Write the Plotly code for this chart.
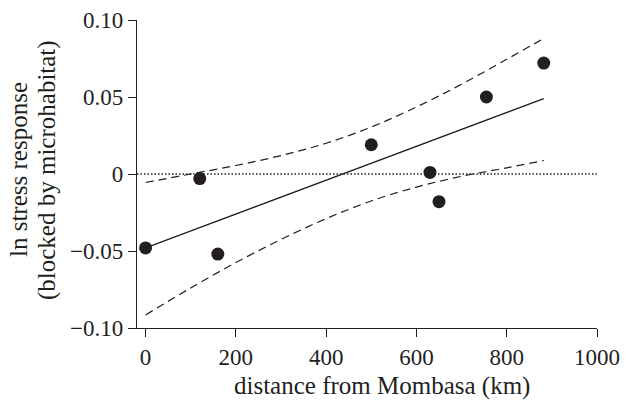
import plotly.graph_objects as go

# data
distance_km = [0, 120, 160, 500, 630, 650, 755, 882]
stress = [-0.048, -0.003, -0.052, 0.019, 0.001, -0.018, 0.050, 0.072]

fit_x = [0, 882]
fit_y = [-0.048, 0.049]

band_x = [0, 100, 200, 300, 400, 500, 600, 700, 800, 882]
band_upper = [-0.0055, 0.0000, 0.0055, 0.0120, 0.0200, 0.0305, 0.0435, 0.0583, 0.0745, 0.0880]
band_lower = [-0.0915, -0.0740, -0.0575, -0.0425, -0.0290, -0.0175, -0.0085, -0.0015, 0.0040, 0.0088]

x_ticks = [0, 200, 400, 600, 800, 1000]
y_ticks = [-0.10, -0.05, 0, 0.05, 0.10]
y_tick_labels = ["\u22120.10", "\u22120.05", "0", "0.05", "0.10"]

x_title = "distance from Mombasa (km)"
y_title_lines = ["ln stress response", "(blocked by microhabitat)"]

ink = "#231f20"
font = "Liberation Serif"
tick_fs = 23
title_fs = 25

fig = go.Figure()
fig.add_hline(y=0, line=dict(color=ink, width=1.5, dash="1.5px,2px"))
fig.add_trace(go.Scatter(x=band_x, y=band_upper, mode="lines",
                         line=dict(color=ink, width=1.2, dash="8px,5px", shape="spline")))
fig.add_trace(go.Scatter(x=band_x, y=band_lower, mode="lines",
                         line=dict(color=ink, width=1.2, dash="8px,5px", shape="spline")))
fig.add_trace(go.Scatter(x=fit_x, y=fit_y, mode="lines",
                         line=dict(color=ink, width=1.4)))
fig.add_trace(go.Scatter(x=distance_km, y=stress, mode="markers",
                         marker=dict(color=ink, size=13), cliponaxis=False))

fig.update_layout(
    width=630, height=401,
    margin=dict(l=137, r=33, t=20, b=73),
    plot_bgcolor="white", paper_bgcolor="white",
    showlegend=False,
    font=dict(family=font, size=tick_fs, color=ink),
)
fig.update_xaxes(
    range=[-19, 1000], tickvals=x_ticks, ticktext=[str(v) for v in x_ticks],
    showline=True, linecolor=ink, linewidth=1.3, showgrid=False, zeroline=False,
    ticks="outside", ticklen=8, tickwidth=1.3, tickcolor=ink, automargin=False,
    tickfont=dict(size=tick_fs),
)
fig.update_yaxes(
    range=[-0.10, 0.10], tickvals=y_ticks, ticktext=y_tick_labels,
    showline=True, linecolor=ink, linewidth=1.3, showgrid=False, zeroline=False,
    ticks="outside", ticklen=8, tickwidth=1.3, tickcolor=ink, automargin=False,
    tickfont=dict(size=tick_fs),
)

# axis titles
fig.add_annotation(text=x_title, xref="paper", yref="paper", x=0.533, y=0,
                   xanchor="center", yanchor="middle", yshift=-58, showarrow=False,
                   font=dict(family=font, size=title_fs, color=ink))
for line, shift in zip(y_title_lines, [-118, -90]):
    fig.add_annotation(text=line, xref="paper", yref="paper", x=0, y=0.513,
                       xanchor="center", yanchor="middle", xshift=shift, textangle=-90,
                       showarrow=False, font=dict(family=font, size=title_fs, color=ink))

fig.write_html("out.html", config={"displayModeBar": False},
               post_script="document.body.style.margin='0';")
